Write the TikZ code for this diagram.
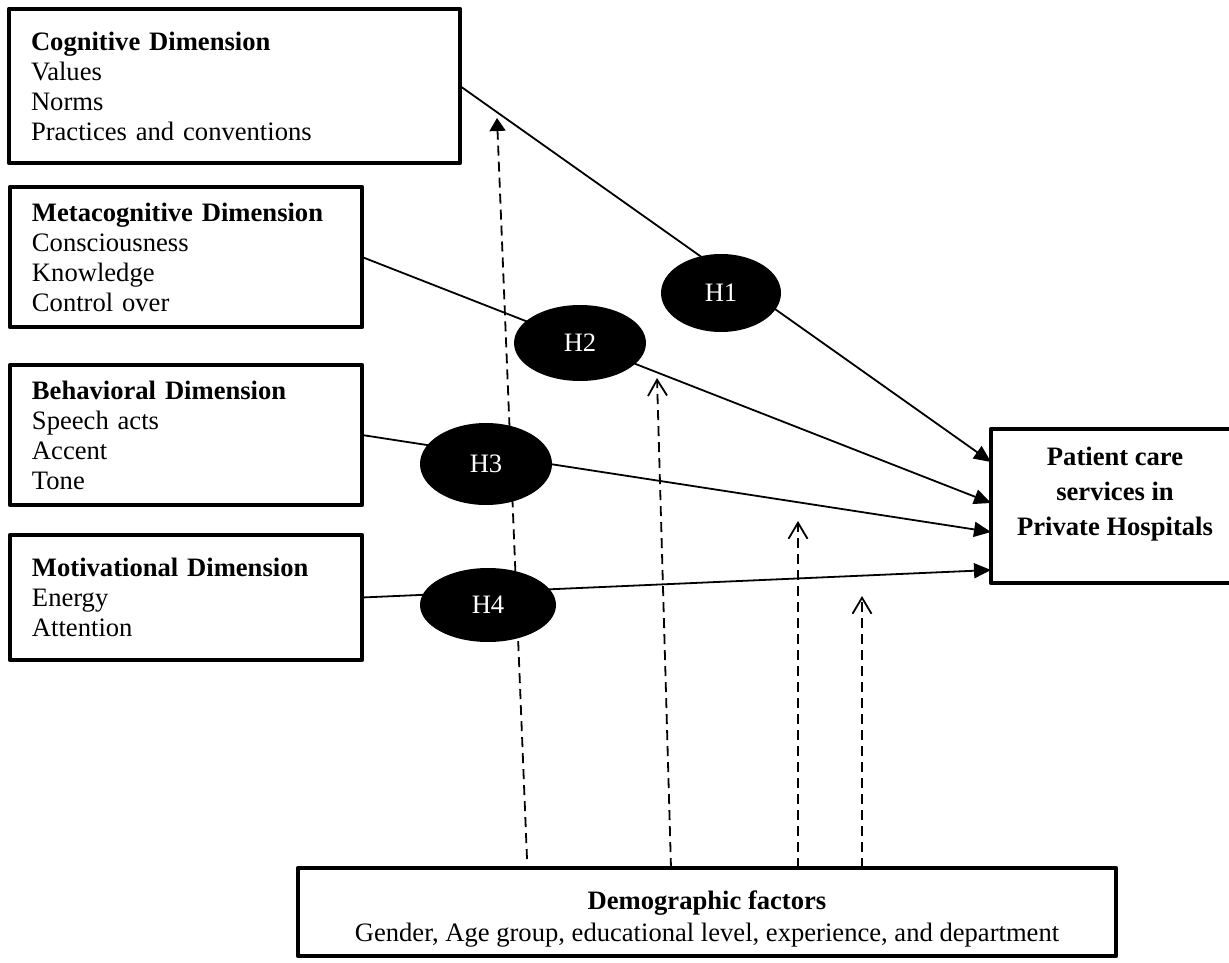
\documentclass[tikz,border=0pt]{standalone}
\usepackage{fontspec}
\setmainfont{Liberation Serif}
\usetikzlibrary{arrows.meta,shapes.geometric}
\begin{document}
\begin{tikzpicture}[x=0.5pt, y=-0.5pt, font=\fontsize{13.3pt}{15pt}\selectfont, line join=round,
	dimbox/.style={draw, line width=2.4pt, anchor=north west, align=left, inner xsep=11pt, inner ysep=0pt, outer sep=0pt, minimum width=176pt, text width=154pt},
	hyp/.style={ellipse, fill=black, text=white, inner sep=0pt, minimum width=66pt, minimum height=38pt},
	link/.style={line width=0.9pt, -{Triangle[length=8.5pt,width=7.5pt]}},
	moder/.style={line width=0.9pt, dash pattern=on 5pt off 3pt, -{Straight Barb[length=8pt,width=9.5pt]}}]
	\useasboundingbox (0,0) rectangle (1229,962);
	\node[dimbox, minimum width=225.5pt, text width=203.5pt, minimum height=77pt] (cog) at (9,9) {\textbf{Cognitive Dimension}\\Values\\Norms\\Practices and conventions};
	\node[dimbox, minimum height=70pt] (meta) at (10,187) {\textbf{Metacognitive Dimension}\\Consciousness\\Knowledge\\Control over};
	\node[dimbox, minimum height=70pt] (beh) at (10,365) {\textbf{Behavioral Dimension}\\Speech acts\\Accent\\Tone};
	\node[dimbox, minimum height=62.5pt] (mot) at (10,535) {\textbf{Motivational Dimension}\\Energy\\Attention};
	\node[dimbox, minimum width=124pt, text width=102pt, minimum height=77pt] (care) at (991,429) {};
	\node[align=center, font=\bfseries\fontsize{13.3pt}{17.5pt}\selectfont] (caretext) at ([yshift=6pt]care.center) {Patient care\\services in\\Private Hospitals};
	\node[dimbox, minimum width=409pt, text width=387pt, minimum height=44pt] (demo) at (298,868) {};
	\node[align=center, font=\fontsize{13.3pt}{16pt}\selectfont] (demotext) at ([yshift=-3.5pt]demo.center) {\textbf{Demographic factors}\\Gender, Age group, educational level, experience, and department};
	\coordinate (in1) at ([yshift=-16.5pt]care.north west);
	\coordinate (in2) at ([yshift=-37pt]care.north west);
	\coordinate (in3) at ([yshift=-51.5pt]care.north west);
	\coordinate (in4) at ([yshift=-70.5pt]care.north west);
	\coordinate (t1) at (497,118);
	\coordinate (t2) at (657,378);
	\coordinate (t3) at (798,521);
	\coordinate (t4) at (862,596);
	\draw[link] (cog.east) -- (in1);
	\draw[link] (meta.east) -- (in2);
	\draw[link] (beh.east) -- (in3);
	\draw[link] (mot.east) -- (in4);
	\draw[moder, -{Triangle[length=6.5pt,width=8pt]}] ([xshift=-90pt,yshift=4.5pt]demo.north) -- (t1);
	\draw[moder] ([xshift=-18pt]demo.north) -- (t2);
	\draw[moder] ([xshift=45.5pt]demo.north) -- (t3);
	\draw[moder] ([xshift=77.5pt]demo.north) -- (t4);
	\node[hyp, minimum width=60pt, minimum height=39pt] (h1) at (721,293) {H1};
	\node[hyp] (h2) at (580,343) {H2};
	\node[hyp, minimum height=41pt] (h3) at (486,464) {H3};
	\node[hyp, minimum width=68pt, minimum height=37pt] (h4) at (488,605) {H4};
\end{tikzpicture}
\end{document}
